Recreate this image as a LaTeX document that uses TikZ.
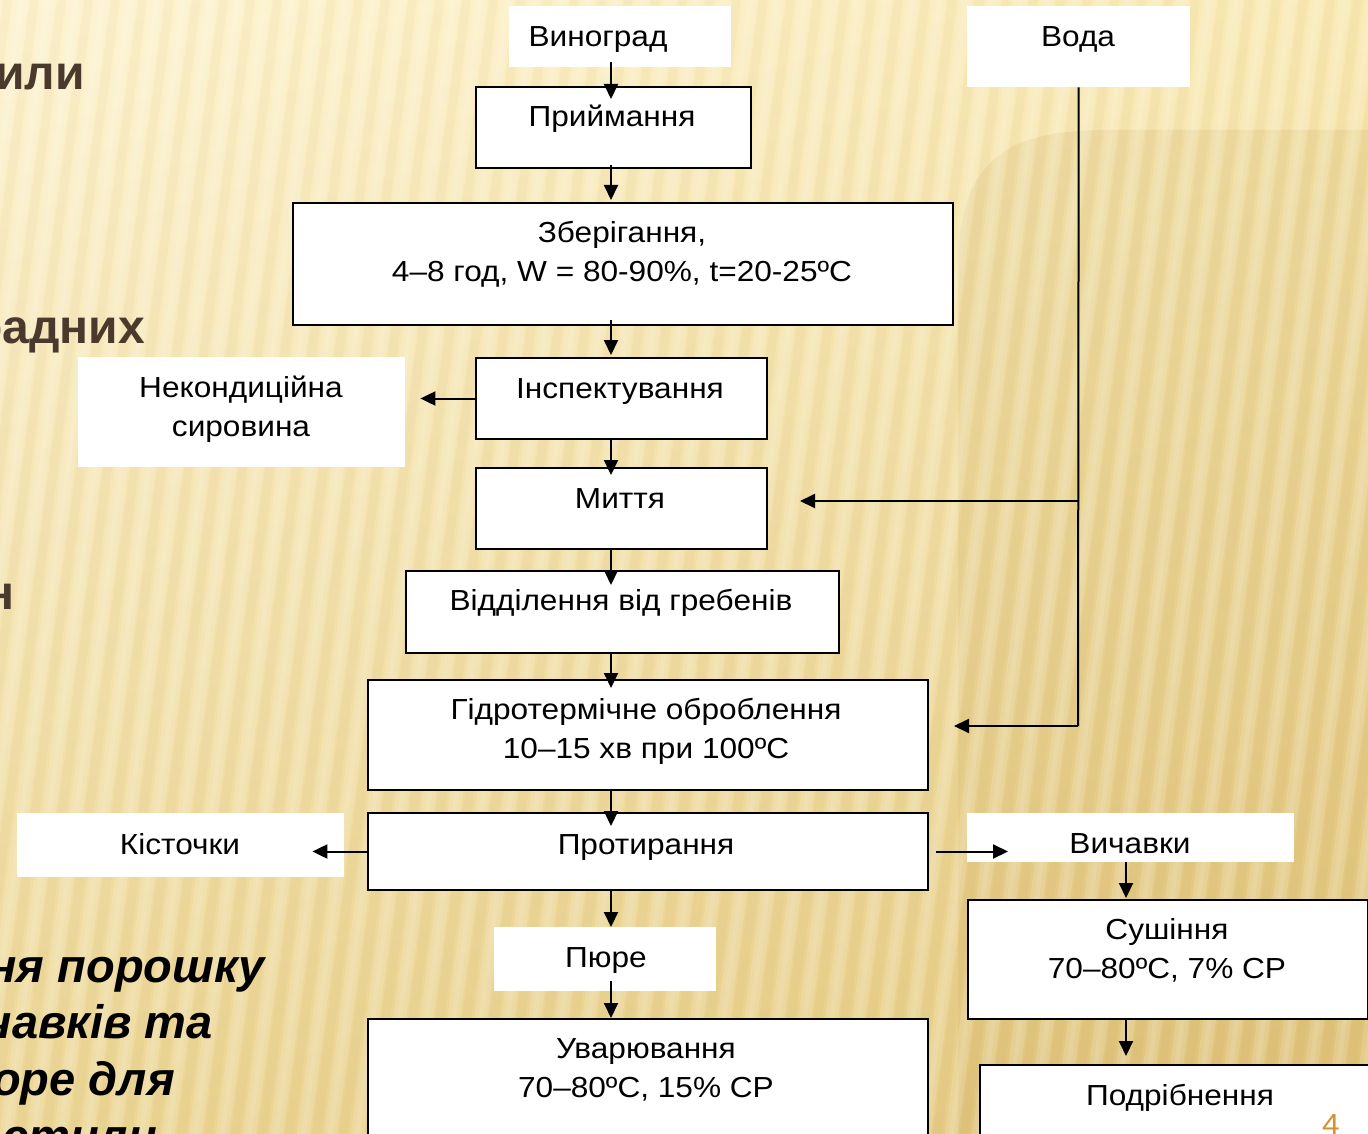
\documentclass[tikz,border=0pt]{standalone}
\usepackage{fontspec}
\setmainfont{Liberation Sans}
\newfontfamily\flowfont{Liberation Sans}[FakeStretch=1.09]
\usetikzlibrary{arrows.meta,shadings}

\definecolor{bgUL}{HTML}{FDF3CF}
\definecolor{bgUR}{HTML}{F9E9B2}
\definecolor{bgLL}{HTML}{EDD796}
\definecolor{bgLR}{HTML}{E3C77E}
\definecolor{shadeGold}{HTML}{C29F48}
\definecolor{headBrown}{HTML}{4A3A2E}
\definecolor{pageNum}{HTML}{D8922C}

\tikzset{
  box/.style={draw=black, line width=2pt, fill=white, inner sep=0pt, anchor=north west},
  pad/.style={fill=white, inner sep=0pt, anchor=north west},
  lbl/.style={font=\flowfont\fontsize{29}{39}\selectfont, inner sep=0pt, align=center, anchor=base},
  head/.style={font=\fontsize{48}{58}\selectfont\bfseries, text=headBrown, inner sep=0pt, anchor=base east},
  foot/.style={font=\fontsize{47}{57}\selectfont\bfseries\itshape, text=black, inner sep=0pt, anchor=base east},
  link/.style={line width=2pt},
  arr/.style={line width=2pt, -{Triangle[length=15pt,width=14pt]}},
}

\begin{document}
\begin{tikzpicture}[x=1pt,y=-1pt]
\useasboundingbox (0,0) rectangle (1368,1134);
\begin{scope}
\clip (0,0) rectangle (1368,1134);

% golden slide background with soft slanted stripes
\shade[upper left=bgUL, upper right=bgUR, lower left=bgLL, lower right=bgLR] (0,0) rectangle (1368,1134);
\fill[shadeGold, opacity=0.14] (1368,130) -- (1100,130) .. controls (1000,132) and (962,165) .. (958,260) -- (958,1134) -- (1368,1134) -- cycle;
\foreach \s [evaluate=\s as \xb using \s*27] in {-8,...,52} {
  \fill[white, opacity=0.15] (\xb,1134) -- ++(13,0) -- ++(150,-1134) -- ++(-13,0) -- cycle;
  \fill[white, opacity=0.10] (\xb+4,1134) -- ++(5,0) -- ++(150,-1134) -- ++(-5,0) -- cycle;
  \fill[brown!70!black, opacity=0.03] (\xb+15,1134) -- ++(9,0) -- ++(150,-1134) -- ++(-9,0) -- cycle;
}

% cut-off slide text on the left
\node[head] (h1) at (85,90) {или};
\node[head] (h2) at (145,343) {радних};
\node[head] (h3) at (15,609) {н};
\node[foot] (f1) at (265,982) {ня порошку};
\node[foot] (f2) at (213,1038) {чавків та};
\node[foot] (f3) at (175,1095) {оре для};
\node[foot] (f4) at (157,1152) {стили};

% blocks of the process
\node[pad, minimum width=222, minimum height=61] (vin) at (509,6) {};
\node[pad, minimum width=223, minimum height=81] (voda) at (967,6) {};
\node[box, minimum width=275, minimum height=81] (prm) at (475,86) {};
\node[box, minimum width=660, minimum height=122] (zb) at (292,202) {};
\node[box, minimum width=291, minimum height=81] (insp) at (475,357) {};
\node[pad, minimum width=327, minimum height=110] (nek) at (78,357) {};
\node[box, minimum width=291, minimum height=81] (myt) at (475,467) {};
\node[box, minimum width=433, minimum height=82] (vid) at (405,570) {};
\node[box, minimum width=560, minimum height=110] (gid) at (367,679) {};
\node[box, minimum width=560, minimum height=77] (prot) at (367,812) {};
\node[pad, minimum width=327, minimum height=64] (kis) at (17,813) {};
\node[pad, minimum width=327, minimum height=49] (vych) at (967,813) {};
\node[pad, minimum width=222, minimum height=64] (pure) at (494,927) {};
\node[box, minimum width=560, minimum height=140] (uvar) at (367,1018) {};
\node[box, minimum width=400, minimum height=119] (sush) at (967,899) {};
\node[box, minimum width=420, minimum height=100] (podr) at (979,1064) {};

% block texts (two-line texts are placed by the baseline of their last line)
\node[lbl] (vinT) at (598,47) {Виноград};
\node[lbl] (vodaT) at (1078,47) {Вода};
\node[lbl] (prmT) at (612,127) {Приймання};
\node[lbl] (zbT) at (622,281) {Зберігання,\\4–8 год, W = 80-90\%, t=20-25ºC};
\node[lbl] (inspT) at (620,398) {Інспектування};
\node[lbl] (nekT) at (241,436) {Некондиційна\\сировина};
\node[lbl] (mytT) at (620,508) {Миття};
\node[lbl] (vidT) at (621,610) {Відділення від гребенів};
\node[lbl] (gidT) at (646,758) {Гідротермічне оброблення\\10–15 хв при 100ºC};
\node[lbl] (protT) at (646,854) {Протирання};
\node[lbl] (kisT) at (180,854) {Кісточки};
\node[lbl] (vychT) at (1130,853) {Вичавки};
\node[lbl] (pureT) at (606,967) {Пюре};
\node[lbl] (uvarT) at (646,1097) {Уварювання\\70–80ºC, 15\% CP};
\node[lbl] (sushT) at (1167,978) {Сушіння\\70–80ºC, 7\% CP};
\node[lbl] (podrT) at (1180,1105) {Подрібнення};
\node[lbl, text=pageNum] (pg) at (1331,1134) {4};

% connectors
\coordinate (sp) at (611,0);
\coordinate (vx) at (1126,0);
\coordinate (w1) at (1078,501);
\coordinate (w2) at (1078,726);

\draw[arr] ([yshift=5pt]vin.south -| sp) -- ([yshift=-13pt]prm.north -| sp);
\draw[arr] ([yshift=4pt]prm.south -| sp) -- ([yshift=2pt]zb.north -| sp);
\draw[arr] ([yshift=6pt]zb.south -| sp) -- ([yshift=2pt]insp.north -| sp);
\draw[arr] (insp.south -| sp) -- ([yshift=-8pt]myt.north -| sp);
\draw[arr] (myt.south -| sp) -- ([yshift=-15pt]vid.north -| sp);
\draw[arr] (vid.south -| sp) -- ([yshift=-9pt]gid.north -| sp);
\draw[arr] (gid.south -| sp) -- ([yshift=-14pt]prot.north -| sp);
\draw[arr] (prot.south -| sp) -- (pure.north -| sp);
\draw[arr] ([yshift=10pt]pure.south -| sp) -- (uvar.north -| sp);

\draw[arr] (insp.west) -- ([xshift=15pt]nek.east |- insp.west);
\draw[arr] (prot.west) -- ([xshift=-32pt]kis.east |- prot.west);
\draw[arr] ([xshift=7pt]prot.east) -- ([xshift=41pt]vych.west |- prot.east);
\draw[arr] (vych.south -| vx) -- ([yshift=1pt]sush.north -| vx);
\draw[arr] (sush.south -| vx) -- ([yshift=8pt]podr.north -| vx);

\draw[link] (voda.south) -- (w2);
\draw[arr] (w1) -- ([xshift=32pt]myt.east |- w1);
\draw[arr] (w2) -- ([xshift=25pt]gid.east |- w2);
\end{scope}
\end{tikzpicture}
\end{document}
